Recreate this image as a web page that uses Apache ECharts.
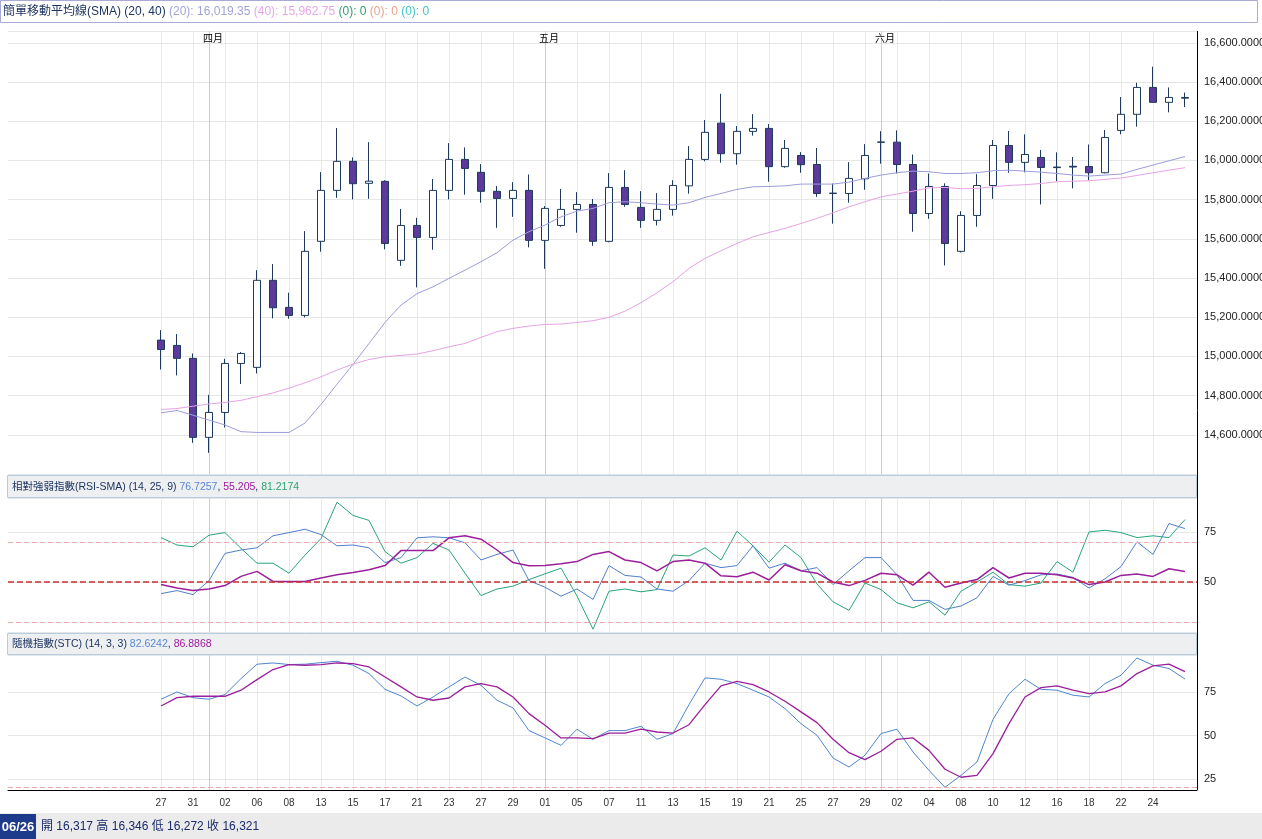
<!DOCTYPE html>
<html>
<head>
<meta charset="utf-8">
<title>簡單移動平均線(SMA)</title>
<script src="https://cdn.jsdelivr.net/npm/echarts@6.0.0/dist/echarts.min.js"></script>
<style>
html, body { margin: 0; padding: 0; background: #fff; }
#main { width: 1262px; height: 839px; }
</style>
</head>
<body>
<div id="main"></div>
<script>
// trading days (MM/DD)
var dates = ['03/27','03/30','03/31','04/01','04/02','04/03','04/06','04/07','04/08','04/09',
  '04/13','04/14','04/15','04/16','04/17','04/20','04/21','04/22','04/23','04/24',
  '04/27','04/28','04/29','04/30','05/01','05/04','05/05','05/06','05/07','05/08',
  '05/11','05/12','05/13','05/14','05/15','05/18','05/19','05/20','05/21','05/22',
  '05/25','05/26','05/27','05/28','05/29','06/01','06/02','06/03','06/04','06/05',
  '06/08','06/09','06/10','06/11','06/12','06/15','06/16','06/17','06/18','06/19',
  '06/22','06/23','06/24','06/25','06/26'];
var monthNames = ['一月','二月','三月','四月','五月','六月','七月','八月','九月','十月','十一月','十二月'];

var opens = [15083,15056,14990,14587,14714,14964,14944,15388,15250,15209,
  15587,15847,15995,15883,15893,15490,15668,15607,15847,16005,
  15939,15842,15806,15847,15592,15668,15750,15775,15587,15862,
  15760,15694,15750,15870,16005,16190,16034,16148,16163,15968,
  16025,15979,15833,15831,15906,16092,16093,15979,15729,15867,
  15536,15719,15872,16076,15990,16015,15966,15970,15969,15937,
  16153,16235,16372,16296,16317];
var highs = [15134,15114,15015,14804,14988,15022,15440,15471,15325,15639,
  15940,16165,16015,16093,15899,15752,15707,15905,16088,16066,
  15981,15869,15889,15928,15767,15854,15838,15803,15935,15950,
  15843,15833,15899,16073,16206,16340,16175,16236,16185,16104,
  16042,16063,15882,15991,16083,16149,16153,16030,15933,15883,
  15741,15930,16104,16150,16133,16053,16041,16017,16081,16155,
  16323,16396,16478,16372,16346];
var lows = [14933,14903,14559,14508,14637,14859,14913,15194,15192,15199,
  15534,15809,15801,15804,15546,15462,15352,15544,15801,15825,
  15784,15656,15712,15556,15447,15661,15631,15564,15582,15763,
  15656,15668,15718,15830,15995,15988,15978,16126,15891,15962,
  15937,15814,15677,15784,15850,15983,15933,15636,15702,15464,
  15530,15661,15804,15937,15939,15775,15894,15857,15899,15934,
  16133,16172,16294,16245,16272];
var closes = [15035,14990,14587,14714,14964,15015,15388,15248,15209,15536,
  15847,15995,15881,15894,15576,15668,15607,15847,16005,15959,
  15842,15806,15847,15592,15755,15750,15775,15587,15862,15775,
  15694,15750,15872,16005,16143,16034,16148,16163,15968,16061,
  15978,15831,15831,15908,16025,16094,15979,15729,15867,15576,
  15719,15872,16076,15990,16030,15964,15963,15966,15937,16117,
  16235,16372,16296,16321,16321];

var smaPeriods = [20, 40];
var sma20 = [14712,14724,14700,14675,14650,14616,14612,14612,14612,14660,
  14755,14858,14959,15066,15173,15262,15320,15355,15398,15440,
  15483,15529,15593,15636,15670,15712,15741,15755,15784,15789,
  15784,15777,15772,15784,15811,15831,15852,15865,15867,15870,
  15879,15879,15879,15889,15908,15925,15937,15945,15942,15933,
  15933,15937,15947,15950,15945,15940,15933,15925,15920,15925,
  15930,15954,15976,15998,16019.35];
var sma40 = [14729,14734,14746,14757,14765,14776,14794,14814,14838,14865,
  14896,14930,14961,14984,14998,15005,15012,15029,15049,15066,
  15097,15126,15143,15155,15163,15165,15173,15182,15199,15231,
  15274,15325,15381,15449,15500,15539,15576,15610,15632,15653,
  15678,15704,15733,15763,15789,15814,15828,15843,15860,15862,
  15855,15857,15865,15872,15876,15882,15891,15894,15896,15903,
  15910,15923,15937,15950,15962.75];

var rsiPeriods = [14, 25, 9];
var rsi14 = [44.2,45.7,43.7,50.7,64.3,66.0,67.1,73.1,74.7,76.4,
  73.7,68.1,68.5,67.1,59.7,62.2,72.1,72.6,72.1,69.6,
  61.0,63.8,66.0,50.7,47.4,42.9,46.5,41.3,58.2,53.3,
  52.5,46.5,45.4,50.7,59.4,57.2,58.2,68.1,56.9,59.4,
  55.6,57.2,48.7,55.6,62.2,62.2,53.6,40.8,40.8,36.3,
  38.0,42.1,52.8,48.4,50.7,53.6,54.0,52.3,47.0,51.6,
  57.7,70.1,63.8,79.2,76.7257];
var rsi25 = [48.7,47.0,45.7,46.5,48.2,52.8,55.3,50.3,50.3,50.3,
  52.0,53.6,54.8,56.1,58.2,65.7,65.7,65.7,72.1,73.1,
  71.4,66.0,59.7,58.1,58.2,59.1,60.2,63.8,65.2,61.0,
  59.7,55.6,60.2,61.0,59.4,53.1,52.6,54.9,51.0,58.6,
  55.6,54.4,50.0,48.2,50.8,54.4,53.6,48.4,54.9,47.4,
  49.5,51.2,57.2,52.0,54.4,54.4,53.6,52.0,48.7,50.0,
  53.3,54.0,52.8,56.6,55.205];
var rsi9 = [72.2,68.5,67.6,73.4,74.7,66.8,59.4,59.4,54.4,63.5,
  71.7,89.9,83.3,80.8,65.2,59.4,62.2,69.3,66.0,54.4,
  43.2,46.5,47.9,51.2,54.1,56.9,43.0,26.4,45.4,46.5,
  45.1,46.2,63.5,63.0,67.1,61.0,75.4,68.1,59.9,68.5,
  62.2,49.0,40.1,35.8,49.5,46.2,39.6,37.1,40.1,33.4,
  45.4,50.0,54.9,48.7,47.9,49.5,60.2,54.9,75.0,75.9,
  74.7,72.2,73.1,72.2,81.2174];
var rsiLevels = [70, 50, 30];

var stcPeriods = [14, 3, 3];
var stcK = [71.0,75.2,71.9,71.0,73.7,82.9,91.2,91.9,91.0,91.2,
  92.1,92.9,90.6,85.8,76.7,72.9,67.1,72.3,78.1,83.8,
  79.0,70.4,66.0,52.9,48.7,44.4,53.7,47.9,52.9,52.9,
  55.4,47.9,51.2,67.9,83.3,82.5,80.0,76.2,72.3,65.6,
  56.9,50.2,37.1,31.9,38.7,51.2,53.7,40.6,30.0,20.2,
  27.1,34.8,59.4,74.2,82.5,76.7,76.2,73.3,72.3,80.0,
  84.8,94.8,90.6,88.7,82.6242];
var stcD = [67.1,71.9,72.7,72.7,72.7,76.2,82.3,88.1,91.0,90.6,
  91.0,91.9,91.5,89.6,83.8,78.1,72.3,70.4,71.7,78.1,
  80.0,78.1,72.3,62.7,56.0,48.7,48.7,48.3,51.5,51.5,
  53.7,52.1,51.5,56.3,67.9,78.7,81.3,79.4,75.2,69.8,
  63.7,57.5,47.9,40.2,36.2,41.0,47.9,48.7,41.5,30.6,
  26.0,27.1,39.6,56.9,72.3,77.7,78.7,76.2,74.2,75.2,
  78.7,85.8,90.2,91.2,86.8868];
var stcLevels = [20];

var chart = echarts.init(document.getElementById('main'));

var FONT = "'Liberation Sans', Arial, 'Noto Sans CJK TC', sans-serif";
var NAVY = '#1f3560';
function last(a) { return a[a.length - 1]; }
function fmt(v, d) { return v.toLocaleString('en-US', {minimumFractionDigits: d, maximumFractionDigits: d}); }
function isMonthStart(i) { return i > 0 && dates[i].slice(0, 2) !== dates[i - 1].slice(0, 2); }
function isGridDay(i) { return i % 2 === 0 && i < dates.length - 1; }

var candles = dates.map(function (d, i) { return [opens[i], closes[i], lows[i], highs[i]]; });

// [top, height] of price / RSI / STC panels
var panels = [[31, 443], [498, 134], [655, 135]];
var grids = [];
panels.forEach(function (p) {
  grids.push({left: 8, right: 65, top: p[0], height: p[1], outerBoundsMode: 'none'});   // frame
  grids.push({left: 161, right: 77, top: p[0], height: p[1], outerBoundsMode: 'none'}); // data
});

function frameX(g, line) {
  return {type: 'category', gridIndex: g, data: dates, boundaryGap: false,
    axisLine: {show: line, lineStyle: {color: '#000', width: 1}},
    axisTick: {show: false}, axisLabel: {show: false}, splitLine: {show: false}};
}
function dayX(g, labels) {
  return {type: 'category', gridIndex: g, data: dates, boundaryGap: false,
    axisLine: {show: false}, axisTick: {show: false},
    axisLabel: labels ? {interval: function (i) { return isGridDay(i); },
      formatter: function (v) { return v.slice(3); },
      color: '#333', fontSize: 10, margin: 8, fontFamily: FONT} : {show: false},
    splitLine: {show: true, interval: function (i) { return isGridDay(i); },
      lineStyle: {color: '#e9e9e9', width: 1}}};
}
function monthX(g, labels) {
  return {type: 'category', gridIndex: g, position: 'top', data: dates, boundaryGap: false,
    axisLine: {show: false}, axisTick: {show: false},
    axisLabel: labels ? {inside: true, interval: function (i) { return isMonthStart(i); },
      formatter: function (v) { return monthNames[parseInt(v.slice(0, 2), 10) - 1]; },
      color: '#000', fontSize: 10, margin: 3, padding: [0, 0, 0, 8], fontFamily: FONT} : {show: false},
    splitLine: {show: true, interval: function (i) { return isMonthStart(i); },
      lineStyle: {color: '#cccccc', width: 1}}};
}
function frameY(g, min, max, step, f) {
  return {type: 'value', gridIndex: g, position: 'right', min: min, max: max,
    minInterval: step, maxInterval: step,
    axisLine: {show: false}, axisTick: {show: false},
    axisLabel: {showMinLabel: false, showMaxLabel: false, margin: 7, color: '#222',
      fontSize: 11, fontFamily: FONT, padding: [6, 0, 0, 0], formatter: f},
    splitLine: {show: true, lineStyle: {color: '#e6e6e6', width: 1}}};
}
function dataY(g, min, max) {
  return {type: 'value', gridIndex: g, position: 'right', min: min, max: max, show: false,
    splitLine: {show: false}};
}
function lineSeries(name, data, xi, yi, color, width) {
  return {name: name, type: 'line', xAxisIndex: xi, yAxisIndex: yi, data: data,
    symbol: 'none', showSymbol: false, clip: false, silent: true,
    lineStyle: {color: color, width: width}, itemStyle: {color: color}};
}
function levelSeries(levels, xi, yi) {
  return {type: 'line', xAxisIndex: xi, yAxisIndex: yi, data: [], silent: true,
    markLine: {silent: true, symbol: 'none', label: {show: false}, animation: false,
      data: levels.map(function (v) {
        return {yAxis: v, lineStyle: v === 50
          ? {color: '#c83030', type: [6, 3], width: 1.5}
          : {color: '#f0aaaa', type: [5, 3], width: 1}};
      })}};
}

var priceFmt = function (v) { return fmt(v, 4); };
var plainFmt = function (v) { return String(v); };

var lastIdx = dates.length - 1;
var ohlcText = '開 ' + fmt(opens[lastIdx], 0) + ' 高 ' + fmt(highs[lastIdx], 0) +
  ' 低 ' + fmt(lows[lastIdx], 0) + ' 收 ' + fmt(closes[lastIdx], 0);

chart.setOption({
  animation: false,
  backgroundColor: '#fff',
  grid: grids,
  xAxis: [frameX(0, false), dayX(1, false), monthX(1, true),
          frameX(2, false), dayX(3, false), monthX(3, false),
          frameX(4, true), dayX(5, true), monthX(5, false)],
  yAxis: [frameY(0, 14400, 16660, 200, priceFmt), dataY(1, 14400, 16660),
          frameY(2, 25, 92, 25, plainFmt), dataY(3, 25, 92),
          frameY(4, 18.65, 96.5, 25, plainFmt), dataY(5, 18.65, 96.5)],
  series: [
    {name: 'K', type: 'candlestick', xAxisIndex: 1, yAxisIndex: 1, data: candles,
      barWidth: 7, clip: false, silent: true,
      itemStyle: {color: '#ffffff', color0: '#5c3a9c', borderColor: '#1d3a5c',
        borderColor0: '#1d3a5c', borderColorDoji: '#1d3a5c', borderWidth: 1}},
    lineSeries('SMA20', sma20, 1, 1, '#9d9ddb', 1),
    lineSeries('SMA40', sma40, 1, 1, '#e6a3e6', 1),
    levelSeries(rsiLevels, 3, 2),
    lineSeries('RSI9', rsi9, 4, 3, '#27a577', 1),
    lineSeries('RSI14', rsi14, 4, 3, '#4f80cc', 1),
    lineSeries('RSI25', rsi25, 4, 3, '#9b1f9b', 1.5),
    levelSeries(stcLevels, 6, 4),
    lineSeries('K', stcK, 7, 5, '#4f86d0', 1),
    lineSeries('D', stcD, 7, 5, '#9b1f9b', 1.3)
  ],
  graphic: [
    {type: 'rect', z: 10, shape: {x: 0.5, y: 0.5, width: 1257, height: 22},
      style: {fill: '#fff', stroke: '#aaaad6', lineWidth: 1}},
    {type: 'text', z: 11, x: 3, y: 12, style: {
      text: '{t|簡單移動平均線(SMA) (' + smaPeriods.join(', ') + ')} ' +
        '{a|(' + smaPeriods[0] + '): ' + fmt(last(sma20), 2) + '} ' +
        '{b|(' + smaPeriods[1] + '): ' + fmt(last(sma40), 2) + '} ' +
        '{c|(0): 0} {d|(0): 0} {e|(0): 0}',
      verticalAlign: 'middle', fontSize: 12, fontFamily: FONT,
      rich: {
        t: {fill: NAVY, fontSize: 12, fontFamily: FONT},
        a: {fill: '#a3a3d6', fontSize: 12, fontFamily: FONT},
        b: {fill: '#e8a6e8', fontSize: 12, fontFamily: FONT},
        c: {fill: '#2e9f6f', fontSize: 12, fontFamily: FONT},
        d: {fill: '#e6a38f', fontSize: 12, fontFamily: FONT},
        e: {fill: '#42c4c4', fontSize: 12, fontFamily: FONT}
      }}},
    {type: 'rect', z: 10, shape: {x: 7.5, y: 475.5, width: 1189, height: 22},
      style: {fill: '#edeff1', stroke: '#b5cde0', lineWidth: 1}},
    {type: 'text', z: 11, x: 12, y: 487, style: {
      text: '{t|相對強弱指數(RSI-SMA) (' + rsiPeriods.join(', ') + ') }{a|' + last(rsi14) +
        '}{t|, }{b|' + last(rsi25) + '}{t|, }{c|' + last(rsi9) + '}',
      verticalAlign: 'middle', fontSize: 10.5, fontFamily: FONT,
      rich: {
        t: {fill: NAVY, fontSize: 10.5, fontFamily: FONT},
        a: {fill: '#5b86d6', fontSize: 10.5, fontFamily: FONT},
        b: {fill: '#a0199e', fontSize: 10.5, fontFamily: FONT},
        c: {fill: '#2aa56e', fontSize: 10.5, fontFamily: FONT}
      }}},
    {type: 'rect', z: 10, shape: {x: 7.5, y: 633.5, width: 1189, height: 21},
      style: {fill: '#edeff1', stroke: '#b5cde0', lineWidth: 1}},
    {type: 'text', z: 11, x: 12, y: 644, style: {
      text: '{t|隨機指數(STC) (' + stcPeriods.join(', ') + ') }{a|' + last(stcK) +
        '}{t|, }{b|' + last(stcD) + '}',
      verticalAlign: 'middle', fontSize: 10.5, fontFamily: FONT,
      rich: {
        t: {fill: NAVY, fontSize: 10.5, fontFamily: FONT},
        a: {fill: '#5b86d6', fontSize: 10.5, fontFamily: FONT},
        b: {fill: '#a0199e', fontSize: 10.5, fontFamily: FONT}
      }}},
    {type: 'line', z: 12, shape: {x1: 1197.5, y1: 31, x2: 1197.5, y2: 790},
      style: {stroke: '#000', lineWidth: 1}},
    {type: 'rect', z: 10, shape: {x: 0, y: 813, width: 1262, height: 26},
      style: {fill: '#ebebeb'}},
    {type: 'rect', z: 11, shape: {x: 0, y: 814, width: 36, height: 25},
      style: {fill: '#1e3a8a'}},
    {type: 'text', z: 12, x: 18, y: 827, style: {
      text: dates[lastIdx], fill: '#fff', fontSize: 13, fontWeight: 'bold', fontFamily: FONT,
      align: 'center', verticalAlign: 'middle'}},
    {type: 'text', z: 12, x: 41, y: 827, style: {
      text: ohlcText, fill: '#1a2a6a', fontSize: 12, fontFamily: FONT, verticalAlign: 'middle'}}
  ]
});
</script>
</body>
</html>
